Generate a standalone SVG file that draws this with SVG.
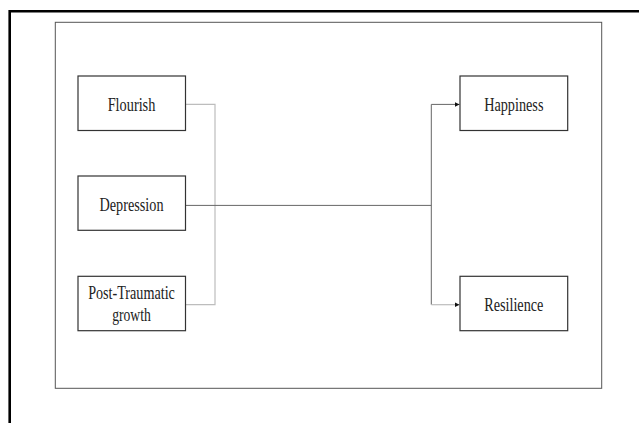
<svg xmlns="http://www.w3.org/2000/svg" width="639" height="423" viewBox="0 0 639 423">
<style>
.box{fill:#fff;stroke:#333;stroke-width:1.2}
.t{font-family:"Liberation Serif","Times New Roman",serif;font-size:18px;fill:#222;text-anchor:middle}
.light{fill:none;stroke:#bdbdbd;stroke-width:1.2}
.dark{fill:none;stroke:#666;stroke-width:1}
</style>
<defs>
<marker id="ah" markerWidth="5" markerHeight="5" refX="5" refY="2.5" orient="auto" markerUnits="userSpaceOnUse">
<path d="M0,0 L5,2.5 L0,5 Z" fill="#111"/>
</marker>
</defs>
<rect width="639" height="423" fill="#fff"/>
<path d="M9.7,423 V11.3 H639" fill="none" stroke="#000" stroke-width="2.6"/>
<rect x="55.3" y="22.3" width="546.4" height="366" fill="none" stroke="#555" stroke-width="1"/>
<g id="connectors">
<path class="light" d="M185.5,104.4 H215 V304.7 H185.5"/>
<path class="dark" d="M185.5,205.4 H431.3"/>
<path class="dark" d="M431.3,304.7 V104.4 H459.5" marker-end="url(#ah)"/>
<path class="light" d="M431.3,304.7 H459.5" marker-end="url(#ah)"/>
</g>
<g id="flourish">
<rect class="box" x="78" y="76" width="107.5" height="54.5"/>
<text class="t" x="131.5" y="110.7" textLength="47.7" lengthAdjust="spacingAndGlyphs">Flourish</text>
</g>
<g id="depression">
<rect class="box" x="78" y="176" width="107.5" height="54.3"/>
<text class="t" x="131.5" y="210.5" textLength="64" lengthAdjust="spacingAndGlyphs">Depression</text>
</g>
<g id="ptg">
<rect class="box" x="78" y="276.3" width="107.5" height="54.4"/>
<text class="t" x="131.5" y="299.3" textLength="86.7" lengthAdjust="spacingAndGlyphs">Post-Traumatic</text>
<text class="t" x="131.5" y="320.8" textLength="38.7" lengthAdjust="spacingAndGlyphs">growth</text>
</g>
<g id="happiness">
<rect class="box" x="460" y="76" width="107.7" height="54.5"/>
<text class="t" x="513.8" y="111" textLength="59.3" lengthAdjust="spacingAndGlyphs">Happiness</text>
</g>
<g id="resilience">
<rect class="box" x="460" y="276.3" width="107.7" height="54.4"/>
<text class="t" x="513.8" y="310.7" textLength="59.3" lengthAdjust="spacingAndGlyphs">Resilience</text>
</g>
</svg>
